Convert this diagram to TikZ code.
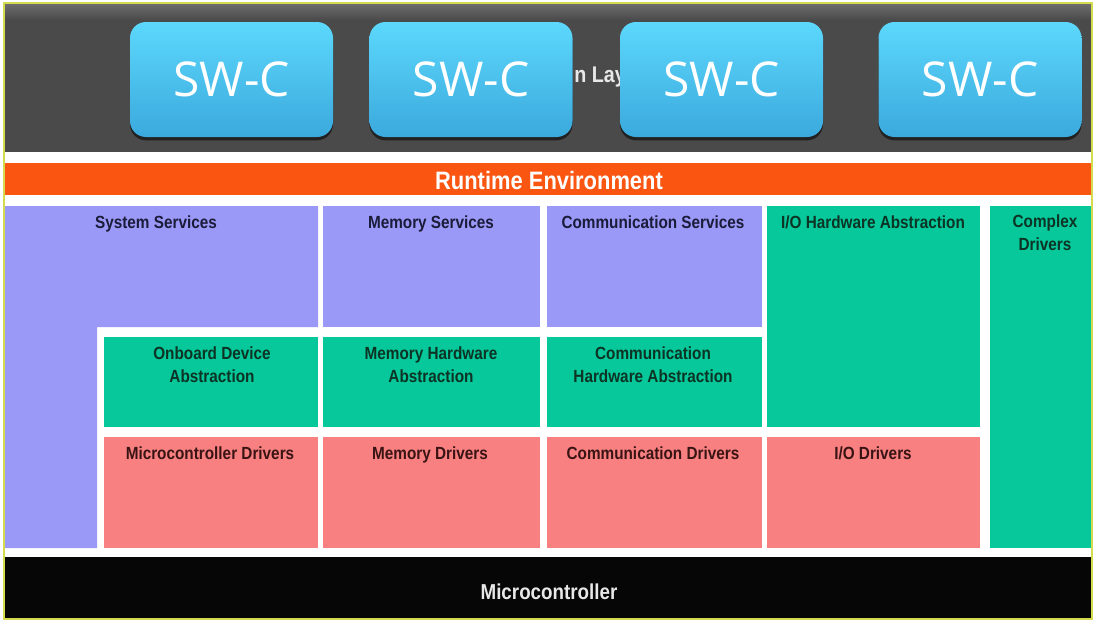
\documentclass[tikz,border=0pt]{standalone}
\usepackage{fontspec}
\setmainfont{Liberation Sans}
\newfontfamily\labfont[FakeStretch=0.87]{Liberation Sans}
\newfontfamily\swcfont{Open Sans}
\usetikzlibrary{shadows}
\definecolor{frameY}{HTML}{D4DB4C}
\definecolor{bandgray}{HTML}{4A4A4A}
\definecolor{bandtop}{HTML}{6C6C6C}
\definecolor{rteorange}{HTML}{FA5511}
\definecolor{svcpurple}{HTML}{9A99F7}
\definecolor{hwgreen}{HTML}{06C89B}
\definecolor{drvred}{HTML}{F88080}
\definecolor{mcblack}{HTML}{060606}
\definecolor{swctop}{HTML}{5CD8FC}
\definecolor{swcbot}{HTML}{3BA9DD}
\definecolor{txpurple}{HTML}{1B1B3A}
\definecolor{txgreen}{HTML}{0C3324}
\definecolor{txred}{HTML}{3A1414}
\definecolor{laytext}{HTML}{E8E8E8}
\begin{document}
\begin{tikzpicture}[x=0.75pt,y=-0.75pt,
  lab/.style={font=\labfont\bfseries\fontsize{13.2pt}{17.25pt}\selectfont, align=center, inner sep=0pt},
  labone/.style={lab, text height=9.5pt, text depth=0pt},
  swc/.style={minimum width=152.25pt, minimum height=86.25pt, rounded corners=12pt,
    top color=swctop, bottom color=swcbot, text=white,
    font=\swcfont\fontsize{36pt}{40pt}\selectfont, inner sep=0pt,
    drop shadow={shadow xshift=0pt, shadow yshift=-2.5pt, opacity=0.55, fill=black}},
]
\useasboundingbox (0,0) rectangle (1095,621);
\fill[white] (0,0) rectangle (1095,621);

% top dark band (application layer)
\fill[bandgray] (5,4) rectangle (1091,152);
\shade[top color=bandtop, bottom color=bandgray] (5,4) rectangle (1091,20);
\node[font=\labfont\bfseries\fontsize{17pt}{20pt}\selectfont, text=laytext, anchor=base west, inner sep=0pt] (applayer) at (574,82) {n Lay};

% SW-C boxes
\node[swc] (swc1) at (231.5,79.5) {SW-C};
\node[swc] (swc2) at (471,79.5) {SW-C};
\node[swc] (swc3) at (721.5,79.5) {SW-C};
\node[swc] (swc4) at (980,79.5) {SW-C};

% runtime environment
\fill[rteorange] (5,163) rectangle (1091,195);
\node[font=\labfont\bfseries\fontsize{18.9pt}{22pt}\selectfont, text=white, inner sep=0pt] (rte) at (549,180) {Runtime Environment};

% services (purple)
\fill[svcpurple] (5,206) -- (318,206) -- (318,327) -- (97,327) -- (97,548) -- (5,548) -- cycle;
\fill[svcpurple] (323,206) rectangle (540,327);
\fill[svcpurple] (547,206) rectangle (762,327);
% abstraction (green)
\fill[hwgreen] (767,206) rectangle (980,427);
\fill[hwgreen] (990,206) rectangle (1091,548);
\fill[hwgreen] (104,337) rectangle (318,427);
\fill[hwgreen] (323,337) rectangle (540,427);
\fill[hwgreen] (547,337) rectangle (762,427);
% drivers (red)
\fill[drvred] (104,437) rectangle (318,548);
\fill[drvred] (323,437) rectangle (540,548);
\fill[drvred] (547,437) rectangle (762,548);
\fill[drvred] (767,437) rectangle (980,548);

% labels
\node[labone, text=txpurple] (syssvc) at (156,222) {System Services};
\node[labone, text=txpurple] (memsvc) at (431,222) {Memory Services};
\node[labone, text=txpurple] (comsvc) at (653,222) {Communication Services};
\node[labone, text=txgreen] (iohw) at (873,222) {I/O Hardware Abstraction};
\node[lab, text=txgreen] (cdd) at (1045,233) {Complex\\Drivers};
\node[lab, text=txgreen] (onboard) at (212,364.5) {Onboard Device\\Abstraction};
\node[lab, text=txgreen] (memhw) at (431,364.5) {Memory Hardware\\Abstraction};
\node[lab, text=txgreen] (comhw) at (653,364.5) {Communication\\Hardware Abstraction};
\node[labone, text=txred] (mcdrv) at (210,453) {Microcontroller Drivers};
\node[labone, text=txred] (memdrv) at (430,453) {Memory Drivers};
\node[labone, text=txred] (comdrv) at (653,453) {Communication Drivers};
\node[labone, text=txred] (iodrv) at (873,453) {I/O Drivers};

% microcontroller
\fill[mcblack] (5,557) rectangle (1091,618);
\node[font=\labfont\bfseries\fontsize{16.2pt}{19pt}\selectfont, text=laytext, inner sep=0pt] (mcu) at (549,592) {Microcontroller};

% outer frame
\draw[frameY, line width=1.5pt] (4,3) rectangle (1092,619);
\end{tikzpicture}
\end{document}
